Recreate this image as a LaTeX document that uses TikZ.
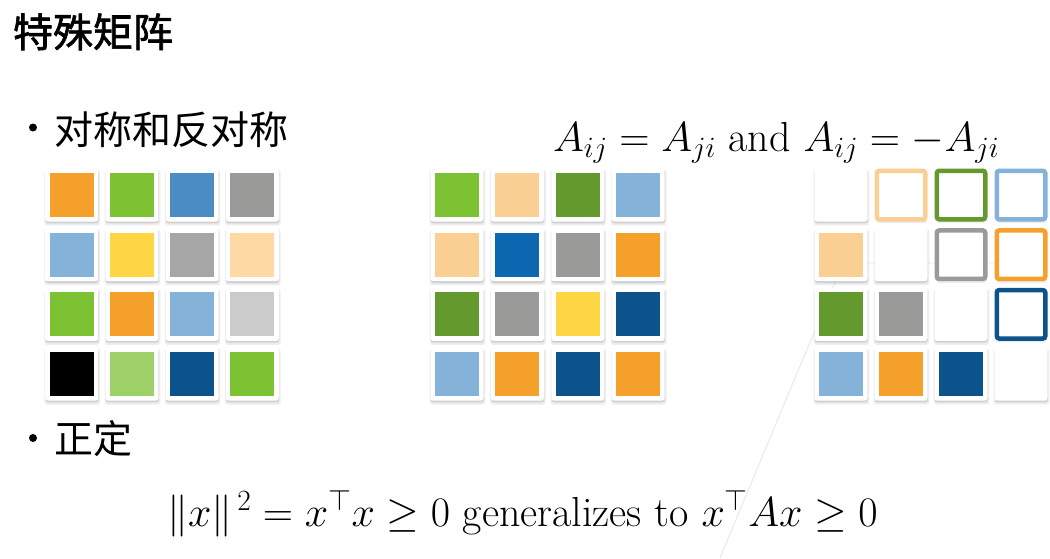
\RequirePackage{fix-cm}
\documentclass[tikz,border=0pt]{standalone}
\usepackage{fontspec}
\newfontfamily\cjk{Noto Sans CJK SC}
\newfontfamily\cjkt[FakeBold=1.6]{Noto Sans CJK SC}
\usetikzlibrary{shadows}
\definecolor{cOr}{HTML}{F5A02A}
\definecolor{cGr}{HTML}{7CC233}
\definecolor{cBl}{HTML}{4A8CC3}
\definecolor{cGy}{HTML}{9A9A99}
\definecolor{cLb}{HTML}{85B2D8}
\definecolor{cYe}{HTML}{FED543}
\definecolor{cGyb}{HTML}{A6A6A6}
\definecolor{cPe}{HTML}{FED9A3}
\definecolor{cLg}{HTML}{CBCBCB}
\definecolor{cLgr}{HTML}{9DD067}
\definecolor{cDb}{HTML}{0C528B}
\definecolor{cPeb}{HTML}{F9CF93}
\definecolor{cDg}{HTML}{649A2D}
\definecolor{cMb}{HTML}{0D67B0}
\definecolor{faint}{HTML}{E6E6E6}
\begin{document}
\begin{tikzpicture}[x=1pt,y=-1pt,
  tile/.style={fill=white, rounded corners=2.5pt, minimum size=53pt, inner sep=0pt, outer sep=0pt,
    drop shadow={shadow xshift=0.5pt, shadow yshift=-2.5pt, shadow scale=1.05, opacity=0.07, fill=black},
    drop shadow={shadow xshift=0.3pt, shadow yshift=-1.8pt, shadow scale=1.0, opacity=0.12, fill=black}},
  otile/.style={tile, draw=#1, line width=4.5pt, minimum size=48.5pt},
  sq/.style={fill=#1, minimum size=44pt, inner sep=0pt, outer sep=0pt},
  txt/.style={anchor=base west, inner sep=0pt, outer sep=0pt},
  bul/.style={circle, fill=black, inner sep=0pt, minimum size=8pt}
]
\fill[white] (0,0) rectangle (1050,558);
\useasboundingbox (0,0) rectangle (1050,558);

% faint guide lines
\coordinate (g0) at (720,558);
\coordinate (g1) at (843,263);
\coordinate (g2) at (1000,263);
\draw[faint, line width=0.8pt] (g0) -- (g1) -- (g2);

% title and bullets
\node[txt, font=\cjkt\fontsize{40}{48}\selectfont] (title) at (13,47) {特殊矩阵};
\node[bul] (b1) at (33,127.5) {};
\node[txt, font=\cjk\fontsize{39}{46}\selectfont] (t1) at (54,144) {对称和反对称};
\node[bul] (b2) at (33,438) {};
\node[txt, font=\cjk\fontsize{39}{46}\selectfont] (t2) at (54,453) {正定};

% equations
\node[txt, font=\fontsize{42}{50}\selectfont] (eq1) at (553,151) {$A_{ij} = A_{ji}$ and $A_{ij} = -A_{ji}$};
\node[txt, font=\fontsize{42}{50}\selectfont] (eq2) at (167,526) {$\|x\|^{\,2} = x^\top x \geq 0$ generalizes to $x^\top A x \geq 0$};

% left matrix
\foreach \r/\row in {1/{cOr,cGr,cBl,cGy},2/{cLb,cYe,cGyb,cPe},3/{cGr,cOr,cLb,cLg},4/{black,cLgr,cDb,cGr}}{
  \foreach \cc [count=\c] in \row {
    \node[tile] (L\r\c) at ({11.5+60.2*\c},{135.3+59.7*\r}) {};
    \node[sq=\cc] (LS\r\c) at (L\r\c) {};
  }
}
% middle matrix
\foreach \r/\row in {1/{cGr,cPeb,cDg,cLb},2/{cPeb,cMb,cGy,cOr},3/{cDg,cGy,cYe,cDb},4/{cLb,cOr,cDb,cOr}}{
  \foreach \cc [count=\c] in \row {
    \node[tile] (M\r\c) at ({396.6+60.4*\c},{135.3+59.7*\r}) {};
    \node[sq=\cc] (MS\r\c) at (M\r\c) {};
  }
}
% right matrix
\node[tile] (R11) at (841,195) {};
\node[otile=cPeb] (R12) at (901,195) {};
\node[otile=cDg] (R13) at (961,195) {};
\node[otile=cLb] (R14) at (1021,195) {};
\node[tile] (R21) at (841,254.7) {}; \node[sq=cPeb] (RS21) at (R21) {};
\node[tile] (R22) at (901,254.7) {};
\node[otile=cGy] (R23) at (961,254.7) {};
\node[otile=cOr] (R24) at (1021,254.7) {};
\node[tile] (R31) at (841,314.3) {}; \node[sq=cDg] (RS31) at (R31) {};
\node[tile] (R32) at (901,314.3) {}; \node[sq=cGy] (RS32) at (R32) {};
\node[tile] (R33) at (961,314.3) {};
\node[otile=cDb] (R34) at (1021,314.3) {};
\node[tile] (R41) at (841,374) {}; \node[sq=cLb] (RS41) at (R41) {};
\node[tile] (R42) at (901,374) {}; \node[sq=cOr] (RS42) at (R42) {};
\node[tile] (R43) at (961,374) {}; \node[sq=cDb] (RS43) at (R43) {};
\node[tile] (R44) at (1021,374) {};
\end{tikzpicture}
\end{document}
